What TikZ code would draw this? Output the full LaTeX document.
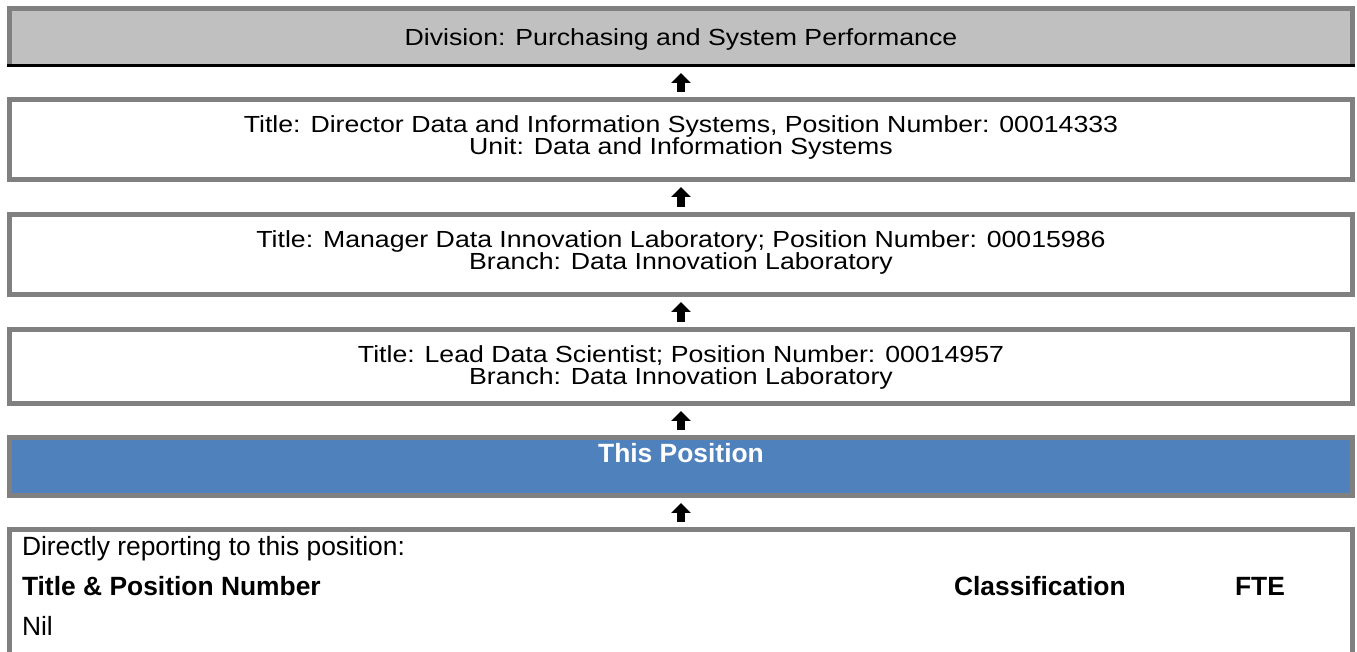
\documentclass[tikz,border=0pt]{standalone}
\usepackage{fontspec}
\setmainfont{Liberation Sans}
\newfontfamily\WideFont{Liberation Sans}[FakeStretch=1.145]
\usetikzlibrary{arrows.meta,positioning}
\definecolor{BoxLine}{RGB}{128,128,128}
\definecolor{DivFill}{RGB}{192,192,192}
\definecolor{PosFill}{RGB}{79,129,189}

\begin{document}
\begin{tikzpicture}[
  x=0.5pt, y=-0.5pt,
  every node/.style = {font=\fontsize{13.2}{13.2}\selectfont, inner sep=0pt, outer sep=0pt},
  BoxStyle/.style = {draw=BoxLine, line width=2.5pt, minimum width=671.5pt, minimum height=#1},
  TextStyle/.style = {align=center, anchor=north,
    font={\WideFont\fontsize{11.65}{11}\selectfont\lineskiplimit=-20pt}},
  BoldStyle/.style = {font=\fontsize{13.2}{13.2}\selectfont\bfseries}
  ]
  \useasboundingbox (0,0) rectangle (1357,652);

  % boxes
  \node[BoxStyle=28.5pt, draw=none, fill=DivFill] (1) at (681,37) {};
  \node[BoxStyle=40pt] (2) at (681,139.5) {};
  \node[BoxStyle=40pt] (3) at (681,254.5) {};
  \node[BoxStyle=37pt] (4) at (681,366.5) {};
  \node[BoxStyle=29pt, fill=PosFill] (5) at (681,466.5) {};
  \node[BoxStyle=85.25pt] (6) at (681,614.75) {};

  \draw[BoxLine, line width=2.5pt] (1.south west) |- (1.north east) -- (1.south east);
  \draw[black, line width=1.25pt] ([xshift=-1.25pt]1.south west) -- ([xshift=1.25pt]1.south east);

  % texts
  \node[TextStyle, anchor=center] (t1) at ([yshift=-1pt]1.center)
    {Division: Purchasing and System Performance};
  \node[TextStyle, below=8.1pt of 2.north] (t2)
    {Title: Director Data and Information Systems, Position Number: 00014333\\
     Unit: Data and Information Systems};
  \node[TextStyle, below=8.1pt of 3.north] (t3)
    {Title: Manager Data Innovation Laboratory; Position Number: 00015986\\
     Branch: Data Innovation Laboratory};
  \node[TextStyle, below=8.1pt of 4.north] (t4)
    {Title: Lead Data Scientist; Position Number: 00014957\\
     Branch: Data Innovation Laboratory};
  \node[BoldStyle, anchor=north, below=3pt of 5.north, text=white] (t5) {This Position};
  \node[anchor=base west] (t6) at (22,556) {Directly reporting to this position:};
  \node[anchor=base west, BoldStyle] (h1) at (22,596) {Title \& Position Number};
  \node[anchor=base west, BoldStyle] (h2) at (954,596) {Classification};
  \node[anchor=base west, BoldStyle] (h3) at (1235,596) {FTE};
  \node[anchor=base west] (nil) at (22,636) {Nil};

  % arrows
  \tikzset{EdgeUp/.style = {black, line width=4pt, -{Triangle[width=9.5pt,length=5pt]},
    shorten <=3.75pt, shorten >=3.75pt}}

  \draw[EdgeUp] (2.north) -- (1.south);
  \draw[EdgeUp] (3.north) -- (2.south);
  \draw[EdgeUp] (4.north) -- (3.south);
  \draw[EdgeUp] (5.north) -- (4.south);
  \draw[EdgeUp] (6.north) -- (5.south);

\end{tikzpicture}
\end{document}
